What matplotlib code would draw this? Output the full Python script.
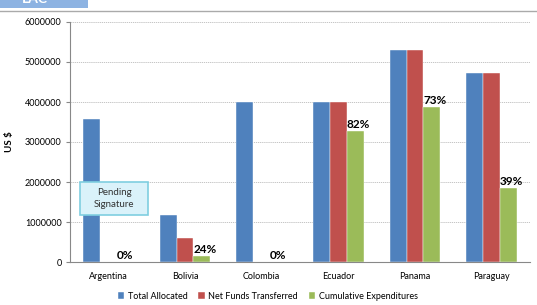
import numpy as np
import matplotlib.pyplot as plt
from matplotlib.patches import Rectangle

countries = ["Argentina", "Bolivia", "Colombia", "Ecuador", "Panama", "Paraguay"]
total_allocated = [3580000, 1180000, 4000000, 4000000, 5300000, 4720000]
net_transferred = [0, 600000, 0, 4000000, 5300000, 4720000]
cumulative_exp = [0, 145000, 0, 3280000, 3870000, 1850000]
pct_labels = ["0%", "24%", "0%", "82%", "73%", "39%"]

plt.rcParams['font.family'] = ['Lato', 'DejaVu Sans']

fig = plt.figure(figsize=(5.37, 3.05), dpi=100)
ax = fig.add_axes([70/537, 1 - 262/305, 460/537, 240/305])

x = np.arange(len(countries))
w = 0.22
colors = ["#4F81BD", "#C0504D", "#9BBB59"]
ax.bar(x - w, total_allocated, w, color=colors[0], label="Total Allocated", edgecolor="white", linewidth=0.3)
ax.bar(x, net_transferred, w, color=colors[1], label="Net Funds Transferred", edgecolor="white", linewidth=0.3)
ax.bar(x + w, cumulative_exp, w, color=colors[2], label="Cumulative Expenditures", edgecolor="white", linewidth=0.3)

for i, lab in enumerate(pct_labels):
    ax.text(x[i] + w / 2, cumulative_exp[i] + 20000, lab, ha="left", va="bottom",
            fontsize=8.5, fontweight="bold")

ax.set_xlim(-0.5, len(countries) - 0.5)
ax.set_ylim(0, 6000000)
ax.set_yticks(np.arange(0, 6000001, 1000000))
ax.set_yticklabels([str(v) for v in range(0, 6000001, 1000000)], fontsize=6.5)
ax.set_xticks(x)
ax.set_xticklabels(countries, fontsize=6.5)
ax.tick_params(axis="x", length=0, pad=7)
ax.tick_params(axis="y", length=3, color="#888888", pad=3)
ax.grid(axis="y", linestyle=(0, (1.5, 1)), color="#BBBBBB", linewidth=0.6)
ax.set_axisbelow(True)
for s in ["top", "right"]:
    ax.spines[s].set_visible(False)
for s in ["left", "bottom"]:
    ax.spines[s].set_color("#888888")
ax.set_ylabel("US $", fontsize=7, fontweight="bold", labelpad=8)

# Pending signature callout
ax.add_patch(Rectangle((10/460, 47/240), 68/460, 33/240, transform=ax.transAxes,
                       facecolor="#DAF2FA", edgecolor="#7FCEE0", linewidth=1.2, zorder=5))
ax.text(44/460, 63.5/240, "Pending\nSignature", transform=ax.transAxes, ha="center", va="center",
        fontsize=7, color="#333333", linespacing=1.35, zorder=6)

ax.legend(loc="upper center", bbox_to_anchor=(0.43, -0.09), ncol=3, frameon=False,
          fontsize=6.5, handlelength=0.7, handleheight=0.7, columnspacing=1.2, handletextpad=0.4)

# header strip
fig.patches.append(Rectangle((0, 1 - 8/305), 88/537, 8/305, transform=fig.transFigure,
                             facecolor="#8DB3E2", edgecolor="none"))
fig.lines.append(plt.Line2D([0, 1], [1 - 11/305, 1 - 11/305], transform=fig.transFigure,
                            color="#AAAAAA", linewidth=1))
fig.text(22/537, 1 + 1/305, "LAC", color="white", fontsize=10, fontweight="bold", va="center")

fig.savefig("out.png", dpi=100)
